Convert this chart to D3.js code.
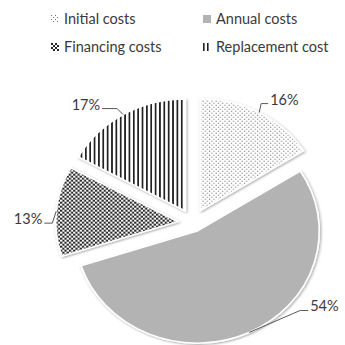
<!DOCTYPE html>
<html>
<head>
<meta charset="utf-8">
<script src="https://cdn.jsdelivr.net/npm/d3@7"></script>
<style>
  body { margin: 0; background: #fff; }
  svg { display: block; font-family: Lato, "Open Sans", sans-serif; }
</style>
</head>
<body>
<svg id="chart" width="345" height="345"></svg>
<script>
// chart data
const categories = ["Initial costs", "Annual costs", "Financing costs", "Replacement cost"];
const shares = [16, 54, 13, 17];
const patternIds = ["patDots", "patSolid", "patCheck", "patLines"];

// layout
const width = 345, height = 345;
const cx = 193, cy = 223;
const radius = 112;
const stretchX = 1.09;
const explode = [14, 9, 14, 14];
// leader line bends: [elbow dx, elbow dy, end dx]
const leaders = [
  [2, -9, 9],
  [51, -22, 59],
  [-4, 12, -12],
  [-6, -6, -21],
];
const textColor = "#3a3a3a";
const lineColor = "#595959";

const svg = d3.select("#chart");
const defs = svg.append("defs");

// fill patterns
const dots = defs.append("pattern").attr("id", "patDots")
  .attr("patternUnits", "userSpaceOnUse").attr("width", 4).attr("height", 4);
dots.append("rect").attr("width", 4).attr("height", 4).attr("fill", "#fff");
dots.append("rect").attr("x", 0).attr("y", 0).attr("width", 1).attr("height", 1).attr("fill", "#6e6e6e");
dots.append("rect").attr("x", 2).attr("y", 2).attr("width", 1).attr("height", 1).attr("fill", "#6e6e6e");

defs.append("pattern").attr("id", "patSolid")
  .attr("patternUnits", "userSpaceOnUse").attr("width", 4).attr("height", 4)
  .append("rect").attr("width", 4).attr("height", 4).attr("fill", "#b3b3b3");

const check = defs.append("pattern").attr("id", "patCheck")
  .attr("patternUnits", "userSpaceOnUse").attr("width", 4).attr("height", 4);
check.append("rect").attr("width", 4).attr("height", 4).attr("fill", "#fff");
check.append("rect").attr("x", 0).attr("y", 0).attr("width", 2).attr("height", 2).attr("fill", "#262626");
check.append("rect").attr("x", 2).attr("y", 2).attr("width", 2).attr("height", 2).attr("fill", "#262626");

const lines = defs.append("pattern").attr("id", "patLines")
  .attr("patternUnits", "userSpaceOnUse").attr("width", 4).attr("height", 4);
lines.append("rect").attr("width", 4).attr("height", 4).attr("fill", "#fff");
lines.append("rect").attr("x", 0).attr("width", 1.6).attr("height", 4).attr("fill", "#222");

const shadow = defs.append("filter").attr("id", "shadow")
  .attr("x", "-20%").attr("y", "-20%").attr("width", "140%").attr("height", "140%");
shadow.append("feDropShadow").attr("dx", 1).attr("dy", 1)
  .attr("stdDeviation", 1.3).attr("flood-color", "#000").attr("flood-opacity", 0.35);

// pie
const pie = d3.pie().sort(null).value((d) => d.value);
const arcs = pie(categories.map((c, i) => ({ name: c, value: shares[i], idx: i })));
const arc = d3.arc().innerRadius(0).outerRadius(radius);

// point on the (stretched) pie for slice i at angle a and radius r
const toScreen = (i, a, r) => {
  const mid = (arcs[i].startAngle + arcs[i].endAngle) / 2;
  const ox = Math.sin(mid) * explode[i];
  const oy = -Math.cos(mid) * explode[i];
  return [cx + (ox + Math.sin(a) * r) * stretchX, cy + oy - Math.cos(a) * r];
};

const pieG = svg.append("g")
  .attr("transform", `translate(${cx},${cy}) scale(${stretchX},1)`);

pieG.selectAll(".slice")
  .data(arcs)
  .enter()
  .append("path")
  .attr("class", "slice")
  .attr("transform", (d) => {
    const mid = (d.startAngle + d.endAngle) / 2;
    return `translate(${Math.sin(mid) * explode[d.data.idx]},${-Math.cos(mid) * explode[d.data.idx]})`;
  })
  .attr("d", arc)
  .attr("fill", (d) => `url(#${patternIds[d.data.idx]})`)
  .attr("stroke", "#fff")
  .attr("stroke-width", 1.5)
  .attr("filter", "url(#shadow)");

// data labels with leader lines
arcs.forEach((d, i) => {
  const mid = (d.startAngle + d.endAngle) / 2;
  const p0 = toScreen(i, mid, radius);
  const [ex, ey, hx] = leaders[i];
  const p1 = [p0[0] + ex, p0[1] + ey];
  const p2 = [p0[0] + hx, p0[1] + ey];
  svg.append("path")
    .attr("d", d3.line()([p0, p1, p2]))
    .attr("fill", "none")
    .attr("stroke", lineColor)
    .attr("stroke-width", 1);
  const right = hx > 0;
  svg.append("text")
    .attr("x", p2[0] + (right ? 2 : -2))
    .attr("y", p2[1] + 1)
    .attr("text-anchor", right ? "start" : "end")
    .attr("font-size", 14.5)
    .attr("fill", textColor)
    .text(shares[i] + "%");
});

// legend
const legendX = [51, 203];
const legendY = [19, 47];
const legend = svg.selectAll(".legend")
  .data(categories)
  .enter()
  .append("g")
  .attr("class", "legend")
  .attr("transform", (d, i) => `translate(${legendX[i % 2]},${legendY[Math.floor(i / 2)]})`);

legend.append("rect")
  .attr("x", 0).attr("y", -4)
  .attr("width", 8).attr("height", 8)
  .attr("fill", (d, i) => `url(#${patternIds[i]})`);

legend.append("text")
  .attr("x", 13).attr("y", 5)
  .attr("font-size", 14.5)
  .attr("fill", textColor)
  .text((d) => d);
</script>
</body>
</html>
